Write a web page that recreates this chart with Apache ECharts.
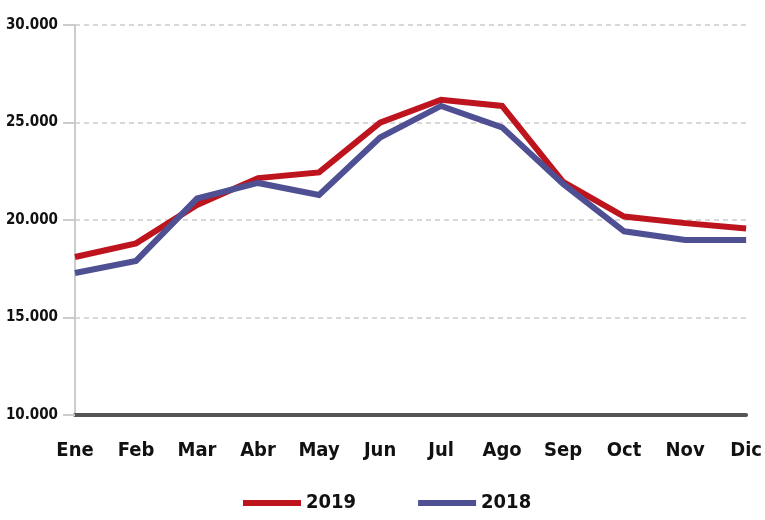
<!DOCTYPE html>
<html lang="es">
<head>
  <meta charset="UTF-8">
  <title>2019 vs 2018</title>
  <style>
    html, body { margin: 0; padding: 0; background: #fff; }
    #chart { width: 765px; height: 520px; }
  </style>
</head>
<body>
<div id="chart"></div>
<script src="https://cdn.jsdelivr.net/npm/echarts@6/dist/echarts.min.js"></script>
<script>
  // meses
  var months = ['Ene', 'Feb', 'Mar', 'Abr', 'May', 'Jun', 'Jul', 'Ago', 'Sep', 'Oct', 'Nov', 'Dic'];
  // valores
  var data2019 = [18100, 18800, 20770, 22150, 22440, 24990, 26170, 25850, 21950, 20180, 19840, 19560];
  var data2018 = [17280, 17900, 21100, 21900, 21280, 24230, 25850, 24750, 21850, 19420, 18970, 18970];
  var yTicks = [10000, 15000, 20000, 25000, 30000];

  var font = "'DejaVu Sans Condensed', 'Liberation Sans Narrow', sans-serif";

  var myChart = echarts.init(document.getElementById('chart'));
  var option = {
    animation: false,
    color: ['#bd141d', '#4f4f94'],
    grid: { left: 75, right: 13, top: 25, bottom: 105, containLabel: false },
    legend: {
      bottom: 2,
      left: 238,
      itemWidth: 58,
      itemHeight: 6,
      itemGap: 62,
      icon: 'rect',
      textStyle: { fontFamily: font, fontWeight: 'bold', fontSize: 20, color: '#111' },
      data: ['2019', '2018']
    },
    xAxis: {
      type: 'category',
      boundaryGap: false,
      data: months,
      axisLine: { lineStyle: { color: '#555', width: 4 } },
      axisTick: { show: false },
      axisLabel: { interval: 0, fontFamily: font, fontWeight: 'bold', fontSize: 20, color: '#111', margin: 26 }
    },
    yAxis: {
      type: 'value',
      min: yTicks[0],
      max: yTicks[yTicks.length - 1],
      interval: 5000,
      axisLine: { show: true, lineStyle: { color: '#ccc', width: 2 } },
      axisTick: { show: true, length: 12, lineStyle: { color: '#ccc', width: 2 } },
      splitLine: { lineStyle: { color: '#ccc', type: [5, 4], width: 1.5 } },
      axisLabel: {
        fontFamily: font, fontWeight: 'bold', fontSize: 15, color: '#111', margin: 17,
        formatter: function (v) { return (v / 1000).toFixed(3); }
      }
    },
    series: [
      { name: '2019', type: 'line', data: data2019, showSymbol: false, lineStyle: { width: 6, join: 'miter' }, z: 3 },
      { name: '2018', type: 'line', data: data2018, showSymbol: false, lineStyle: { width: 6, join: 'miter' }, z: 4 }
    ]
  };
  myChart.setOption(option);
</script>
</body>
</html>
